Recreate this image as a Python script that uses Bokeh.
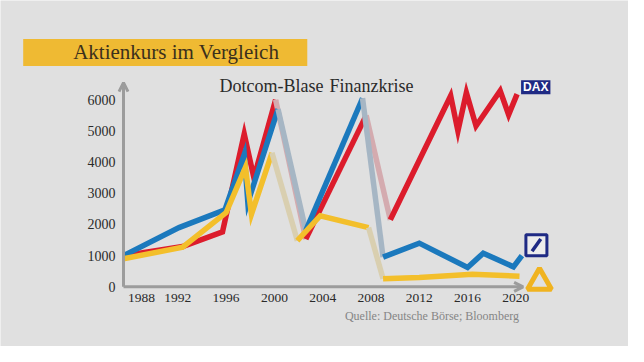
from bokeh.plotting import figure
from bokeh.models import Range1d, Label, Arrow, OpenHead
from bokeh.embed import file_html
from bokeh.resources import INLINE

# ---------------- data ----------------
dax_years = [1987.5, 1992.4, 1995.7, 1997.5, 1998.3, 2000.1, 2002.6, 2007.6, 2009.6,
             2014.6, 2015.2, 2015.9, 2016.7, 2018.7, 2019.4, 2020.1]
dax_values = [1000, 1290, 1760, 4900, 3500, 6000, 1530, 5500, 2150,
              6130, 5000, 6230, 5160, 6290, 5520, 6180]

db_years = [1987.5, 1992.1, 1995.9, 1997.5, 1997.8, 2000.3, 2002.6, 2007.3, 2009.0,
            2012.0, 2016.0, 2017.3, 2019.8, 2020.5]
db_values = [1000, 1900, 2470, 4250, 2700, 5700, 1800, 6050, 950,
             1400, 620, 1080, 640, 1000]

cb_years = [1987.5, 1992.4, 1996.0, 1997.6, 1998.1, 1999.8, 2001.9, 2003.8, 2007.8,
            2009.0, 2012.0, 2016.4, 2020.3]
cb_values = [900, 1270, 2380, 3830, 2330, 4300, 1480, 2280, 1900,
             260, 300, 400, 340]

crises = [(1999.5, 2003.0), (2007.0, 2009.7)]
crisis_labels = ["Dotcom-Blase", "Finanzkrise"]

y_ticks = [0, 1000, 2000, 3000, 4000, 5000, 6000]
y_tick_labels = ["0", "1000", "2000", "3000", "4000", "5000", "6000"]
x_ticks = [1989, 1992, 1996, 2000, 2004, 2008, 2012, 2016, 2020]
x_tick_labels = ["1988", "1992", "1996", "2000", "2004", "2008", "2012", "2016", "2020"]
y_axis_top = 6550
x_axis_end = 2020.6

title_text = "Aktienkurs im Vergleich"
source_text = "Quelle: Deutsche Börse; Bloomberg"

# ---------------- layout ----------------
W, H = 628, 346
SX = 12.073          # px per year
SY = 0.03117         # px per index point
AX_X_PX, AX_Y_PX = 123.0, 286.3   # canvas position of (first year, 0)
X0 = dax_years[0] - AX_X_PX / SX
X1 = X0 + W / SX
Y0 = 0 - (H - AX_Y_PX) / SY
Y1 = Y0 + H / SY


def dx(fx):
    return X0 + fx / SX


def dy(fy):
    return Y1 - fy / SY


BG = "#e0e0e0"
p = figure(width=W, height=H, output_backend="svg", toolbar_location=None,
           x_range=Range1d(X0, X1), y_range=Range1d(Y0, Y1),
           min_border=0, x_axis_type=None, y_axis_type=None)
p.background_fill_color = BG
p.border_fill_color = BG
p.outline_line_color = None
p.grid.visible = False

SERIF = "Liberation Serif"
TXT = "#2a2a2a"

# axis arrows
AX = "#9c9c9c"
x_start = dax_years[0]
p.add_layout(Arrow(x_start=x_start, y_start=0, x_end=x_start, y_end=y_axis_top,
                   line_color=AX, line_width=3,
                   end=OpenHead(size=9, line_color=AX, line_width=3)))
p.add_layout(Arrow(x_start=x_start, y_start=0, x_end=x_axis_end, y_end=0,
                   line_color=AX, line_width=3,
                   end=OpenHead(size=9, line_color=AX, line_width=3)))

# tick labels
p.text(x=[x_start] * len(y_ticks), y=y_ticks, text=y_tick_labels, x_offset=-8,
       text_align="right", text_baseline="middle", text_font=SERIF,
       text_font_size="14px", text_color=TXT)
p.text(x=x_ticks, y=[0] * len(x_ticks), text=x_tick_labels, y_offset=11,
       text_align="center", text_baseline="middle", text_font=SERIF,
       text_font_size="13.5px", text_color=TXT)


def in_crisis(a, b):
    return any(lo <= a and b <= hi for lo, hi in crises)


def draw_series(xs, ys, color, faded):
    pieces = []
    cur = [[xs[0]], [ys[0]], None]
    for i in range(1, len(xs)):
        f = in_crisis(xs[i - 1], xs[i])
        if cur[2] is None or cur[2] == f:
            cur[0].append(xs[i]); cur[1].append(ys[i]); cur[2] = f
        else:
            pieces.append(cur)
            cur = [[xs[i - 1], xs[i]], [ys[i - 1], ys[i]], f]
    pieces.append(cur)
    for px, py, f in pieces:
        p.line(px, py, line_color=faded if f else color, line_width=5.5,
               line_join="miter")


draw_series(dax_years, dax_values, "#dc1c2c", "#d4abaf")
draw_series(db_years, db_values, "#1b79bd", "#a6b6c4")
draw_series(cb_years, cb_values, "#f3bf2b", "#d9cfb0")

# title banner
p.add_layout(Label(x=dx(22.7), y=dy(52), text=title_text, text_font=SERIF,
                   text_font_size="21px", text_color="#3b301c",
                   text_baseline="alphabetic",
                   background_fill_color="#efba33",
                   padding=dict(left=50, right=28, top=1, bottom=2)))

# crisis annotations
p.add_layout(Label(x=dx(219), y=dy(85), text=crisis_labels[0], text_font=SERIF,
                   text_font_size="18px", text_color=TXT, text_baseline="alphabetic"))
p.add_layout(Label(x=dx(329), y=dy(85), text=crisis_labels[1], text_font=SERIF,
                   text_font_size="18px", text_color=TXT, text_baseline="alphabetic"))

# series logos (anchored at the last data point of each series)
NAVY = "#1f2a84"
p.add_layout(Label(x=dax_years[-1], y=dax_values[-1], x_offset=4, y_offset=7,
                   text="DAX", text_font="Liberation Sans", text_font_style="bold",
                   text_font_size="12px", text_color="white", text_baseline="middle",
                   background_fill_color=NAVY,
                   padding=dict(left=2, right=2, top=0, bottom=0)))
db_lx = db_years[-1] + 14.5 / SX
db_ly = db_values[-1] + 10.5 / SY
p.scatter([db_lx], [db_ly], marker="square", size=21, fill_color="#ececec",
          line_color=NAVY, line_width=3)
p.scatter([db_lx], [db_ly], marker="dash", size=15, angle=0.95,
          line_color=NAVY, line_width=3.5)
p.scatter([cb_years[-1] + 20 / SX], [cb_values[-1] - 6 / SY], marker="triangle",
          size=24, fill_color=None, line_color="#f0b320", line_width=5)

# source
p.add_layout(Label(x=dx(518.5), y=dy(315), text=source_text, text_font=SERIF,
                   text_font_size="12px", text_color="#858585", text_align="right",
                   text_baseline="alphabetic"))

open("out.html", "w").write(file_html(p, INLINE))
